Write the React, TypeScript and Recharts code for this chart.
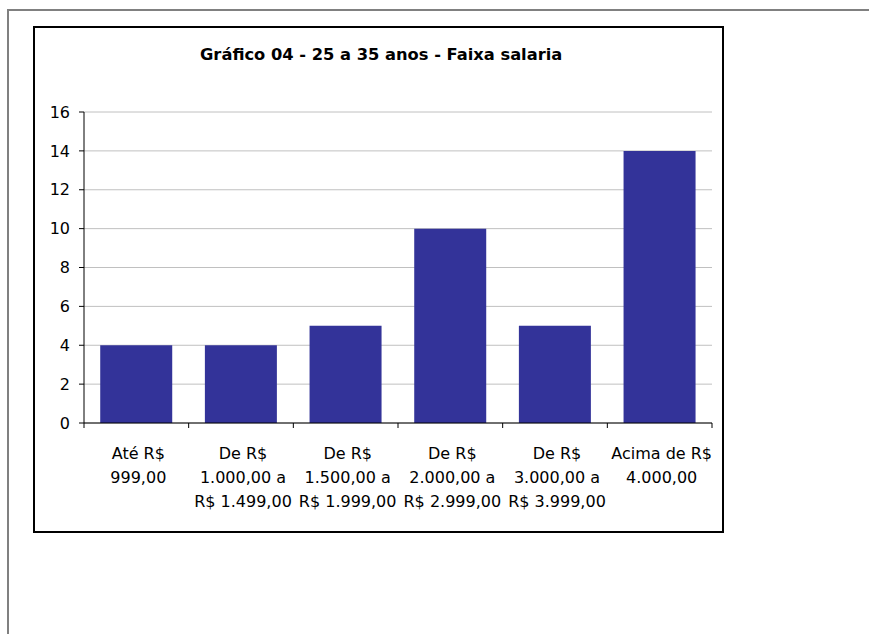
import React from "react";
import { Bar, BarChart, CartesianGrid, XAxis, YAxis } from "recharts";

const title = "Gráfico 04 - 25 a 35 anos - Faixa salaria";
const faixas = [
  "Até R$\n999,00",
  "De R$\n1.000,00 a\nR$ 1.499,00",
  "De R$\n1.500,00 a\nR$ 1.999,00",
  "De R$\n2.000,00 a\nR$ 2.999,00",
  "De R$\n3.000,00 a\nR$ 3.999,00",
  "Acima de R$\n4.000,00",
];
const quantidades = [4, 4, 5, 10, 5, 14];
const yTicks = [0, 2, 4, 6, 8, 10, 12, 14, 16];

const data = faixas.map((faixa, i) => ({ faixa, total: quantidades[i] }));

const FONT = "'DejaVu Sans', Verdana, sans-serif";

// category labels with the tick marks sitting on the band edges
function FaixaTick(props: any) {
  const { x, y, payload, index } = props;
  const half = payload.offset ?? 52.3;
  const lines = String(payload.value).split("\n");
  return (
    <g>
      <line x1={x - half} y1={y} x2={x - half} y2={y + 5} stroke="#000" />
      {index === faixas.length - 1 && <line x1={x + half} y1={y} x2={x + half} y2={y + 5} stroke="#000" />}
      <text x={x + 2} y={y + 36} textAnchor="middle" fill="#000" fontSize={16} fontFamily={FONT}>
        {lines.map((l, i) => (
          <tspan key={i} x={x + 2} dy={i === 0 ? 0 : 24}>
            {l}
          </tspan>
        ))}
      </text>
    </g>
  );
}

export default function App() {
  return (
    <div>
      <div
        style={{
          position: "absolute",
          left: 7,
          top: 9,
          width: 862,
          height: 625,
          borderTop: "2px solid #808080",
          borderLeft: "2px solid #808080",
          boxSizing: "border-box",
        }}
      />
      <div
        style={{
          position: "absolute",
          left: 33,
          top: 26,
          width: 691,
          height: 507,
          border: "2px solid #000",
          boxSizing: "border-box",
          background: "#fff",
        }}
      />
      <div
        style={{
          position: "absolute",
          left: 200,
          top: 44,
          whiteSpace: "nowrap",
          fontFamily: FONT,
          fontWeight: "bold",
          fontSize: 16.3,
          lineHeight: "21px",
          color: "#000",
        }}
      >
        {title}
      </div>
      <div style={{ position: "absolute", left: 0, top: 0 }}>
        <BarChart
          width={869}
          height={634}
          data={data}
          margin={{ top: 112, right: 157, bottom: 111, left: 0 }}
          barCategoryGap="15.5%"
        >
          <CartesianGrid vertical={false} stroke="#C0C0C0" />
          <XAxis
            dataKey="faixa"
            interval={0}
            height={100}
            stroke="#000"
            tickLine={false}
            tickSize={0}
            tickMargin={0}
            tick={<FaixaTick />}
          />
          <YAxis
            width={84}
            domain={[0, 16]}
            ticks={yTicks}
            stroke="#000"
            tickSize={5}
            tickMargin={9}
            tick={{ fill: "#000", fontSize: 16, fontFamily: FONT }}
          />
          <Bar dataKey="total" fill="#333399" isAnimationActive={false} />
        </BarChart>
      </div>
    </div>
  );
}
